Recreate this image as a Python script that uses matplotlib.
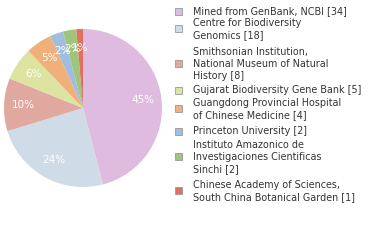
import matplotlib
matplotlib.use("Agg")
import matplotlib.pyplot as plt
from matplotlib.patches import Rectangle

labels = [
    "Mined from GenBank, NCBI [34]",
    "Centre for Biodiversity\nGenomics [18]",
    "Smithsonian Institution,\nNational Museum of Natural\nHistory [8]",
    "Gujarat Biodiversity Gene Bank [5]",
    "Guangdong Provincial Hospital\nof Chinese Medicine [4]",
    "Princeton University [2]",
    "Instituto Amazonico de\nInvestigaciones Cientificas\nSinchi [2]",
    "Chinese Academy of Sciences,\nSouth China Botanical Garden [1]",
]
values = [34, 18, 8, 5, 4, 2, 2, 1]
colors = ["#dfbbdf", "#cfdbe6", "#e0a89e", "#dde3a1", "#f0b07a", "#a0bde0", "#a0c47a", "#e07060"]

# layout: top line y (px from top) of each legend entry
entry_tops = [11, 23, 52, 90, 103, 131, 145, 185]
line_h = 11.8

W, H = 380, 240
fig = plt.figure(figsize=(W / 100, H / 100), dpi=100)
ax = fig.add_axes([0, 0, 1, 1])

total = sum(values)
pct_labels = [f"{v * 100 // total}%" for v in values]
wedges, texts, autotexts = ax.pie(
    values, colors=colors, startangle=90, counterclock=False,
    center=(83, H - 108), radius=79, frame=True,
    autopct="%1.0f%%", pctdistance=0.76,
    textprops=dict(color="white", fontsize=7.5),
    wedgeprops=dict(linewidth=0),
)
for t, s in zip(autotexts, pct_labels):
    t.set_text(s)
ax.set_xlim(0, W)
ax.set_ylim(0, H)
ax.set_aspect("equal")
ax.axis("off")

for lab, c, top in zip(labels, colors, entry_tops):
    lines = lab.split("\n")
    for i, ln in enumerate(lines):
        fig.text(193 / W, 1 - (top + i * line_h) / H, ln, fontsize=6.9,
                 color="#333333", va="center", ha="left")
    mid = top + (len(lines) - 1) * line_h / 2
    ax.add_patch(Rectangle((175, H - mid - 3.5), 7, 7, facecolor=c,
                           edgecolor="#999999", linewidth=0.6, clip_on=False))

fig.savefig("out.png", dpi=100)
